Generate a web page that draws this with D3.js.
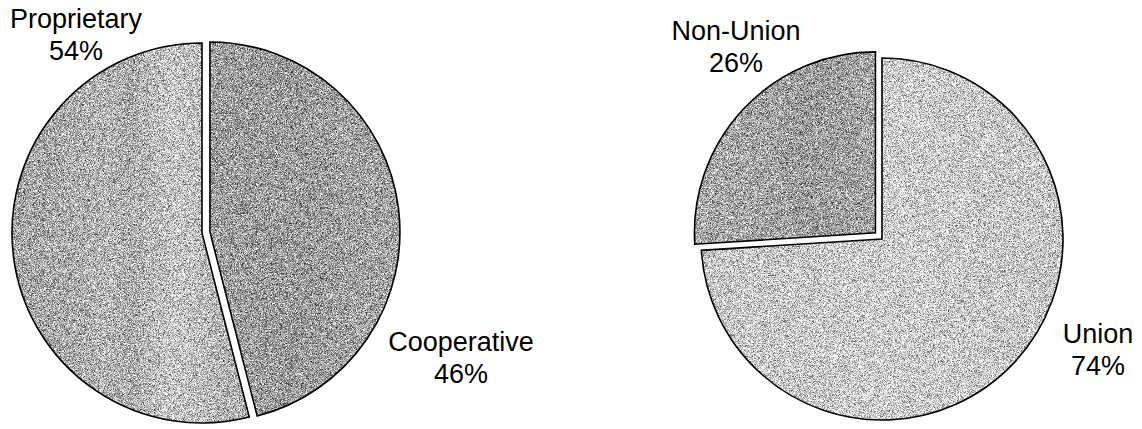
<!DOCTYPE html>
<html>
<head>
<meta charset="utf-8">
<script src="https://cdn.jsdelivr.net/npm/d3@7/dist/d3.min.js"></script>
<style>
  html, body { margin: 0; padding: 0; background: #fff; }
  svg { display: block; }
  text { font-family: "Liberation Sans", Arial, sans-serif; fill: #000; }
</style>
</head>
<body>
<svg id="chart" width="1142" height="429"></svg>
<script>
// Ownership split (left pie)
const ownershipCategories = ["Cooperative", "Proprietary"];
const ownershipValues = [46, 54];

// Workforce split (right pie)
const unionCategories = ["Union", "Non-Union"];
const unionValues = [74, 26];

const svg = d3.select("#chart");
const defs = svg.append("defs");

// Grain filter: adds fine speckle noise on top of a flat/gradient fill
function addGrain(id, seed, amp) {
  const f = defs.append("filter").attr("id", id)
    .attr("x", "0%").attr("y", "0%").attr("width", "100%").attr("height", "100%")
    .attr("color-interpolation-filters", "sRGB");
  f.append("feTurbulence").attr("type", "fractalNoise")
    .attr("baseFrequency", 2.2).attr("numOctaves", 1).attr("seed", seed).attr("result", "t");
  f.append("feColorMatrix").attr("in", "t").attr("type", "matrix")
    .attr("values", "1 0 0 0 0  1 0 0 0 0  1 0 0 0 0  0 0 0 0 1").attr("result", "g");
  f.append("feComposite").attr("in", "g").attr("in2", "SourceGraphic")
    .attr("operator", "arithmetic")
    .attr("k1", 0).attr("k2", amp).attr("k3", 1).attr("k4", -0.5 * amp).attr("result", "m");
  f.append("feComposite").attr("in", "m").attr("in2", "SourceAlpha").attr("operator", "in");
}
addGrain("grainA", 3, 1.7);
addGrain("grainB", 7, 1.7);

// Horizontal shading bands for each slice
function addGradient(id, stops) {
  const g = defs.append("linearGradient").attr("id", id)
    .attr("x1", "0%").attr("y1", "0%").attr("x2", "100%").attr("y2", "0%");
  stops.forEach(([o, c]) => g.append("stop").attr("offset", o).attr("stop-color", c));
}
addGradient("fillProprietary", [[0, "#a3a3a3"], [0.2, "#aaaaaa"], [0.4, "#b6b6b6"], [0.5, "#acacac"],
  [0.68, "#c8c8c8"], [0.78, "#c0c0c0"], [0.9, "#b2b2b2"], [1, "#b4b4b4"]]);
addGradient("fillCooperative", [[0, "#9e9e9e"], [0.5, "#9b9b9b"], [0.8, "#a3a3a3"], [1, "#a0a0a0"]]);
addGradient("fillUnion", [[0, "#c8c8c8"], [0.3, "#cbcbcb"], [0.5, "#d0d0d0"], [0.8, "#cacaca"], [1, "#c7c7c7"]]);
addGradient("fillNonUnion", [[0, "#aaaaaa"], [0.4, "#a4a4a4"], [0.6, "#9c9c9c"], [0.85, "#a0a0a0"], [1, "#a6a6a6"]]);

const fills = {
  "Proprietary": "url(#fillProprietary)",
  "Cooperative": "url(#fillCooperative)",
  "Union": "url(#fillUnion)",
  "Non-Union": "url(#fillNonUnion)"
};

const pie = d3.pie().sort(null).value(d => d.value);

function drawPie(cfg) {
  const data = cfg.categories.map((c, i) => ({ name: c, value: cfg.values[i] }));
  const arcs = pie(data);
  const arc = d3.arc().innerRadius(0).outerRadius(cfg.radius);
  const g = svg.append("g").attr("transform", `translate(${cfg.cx},${cfg.cy})`);

  const slice = g.selectAll("g.slice").data(arcs).join("g")
    .attr("class", "slice")
    .attr("transform", d => {
      const off = cfg.explode[d.data.name] || 0;
      const mid = (d.startAngle + d.endAngle) / 2;
      return `translate(${off * Math.sin(mid)},${-off * Math.cos(mid)})`;
    });

  slice.append("path")
    .attr("d", arc)
    .attr("fill", d => fills[d.data.name])
    .attr("filter", `url(#${cfg.grain})`);
  slice.append("path")
    .attr("d", arc)
    .attr("fill", "none")
    .attr("stroke", "#000")
    .attr("stroke-width", 1.6)
    .attr("stroke-linejoin", "miter");

  // Category name and percent labels
  const total = d3.sum(cfg.values);
  arcs.forEach(d => {
    const p = cfg.labels[d.data.name];
    const t = svg.append("text")
      .attr("x", p[0]).attr("y", p[1])
      .attr("text-anchor", "middle")
      .attr("font-size", 27);
    t.append("tspan").attr("x", p[0]).text(d.data.name);
    t.append("tspan").attr("x", p[0]).attr("dy", 32)
      .text(Math.round(d.data.value / total * 100) + "%");
  });
}

drawPie({
  categories: ownershipCategories,
  values: ownershipValues,
  cx: 202, cy: 233, radius: 190,
  explode: { "Cooperative": 8 },
  grain: "grainA",
  labels: { "Proprietary": [76, 28], "Cooperative": [461, 351] }
});

drawPie({
  categories: unionCategories,
  values: unionValues,
  cx: 882, cy: 239, radius: 181,
  explode: { "Non-Union": 9 },
  grain: "grainB",
  labels: { "Union": [1098, 343], "Non-Union": [736, 40] }
});
</script>
</body>
</html>
